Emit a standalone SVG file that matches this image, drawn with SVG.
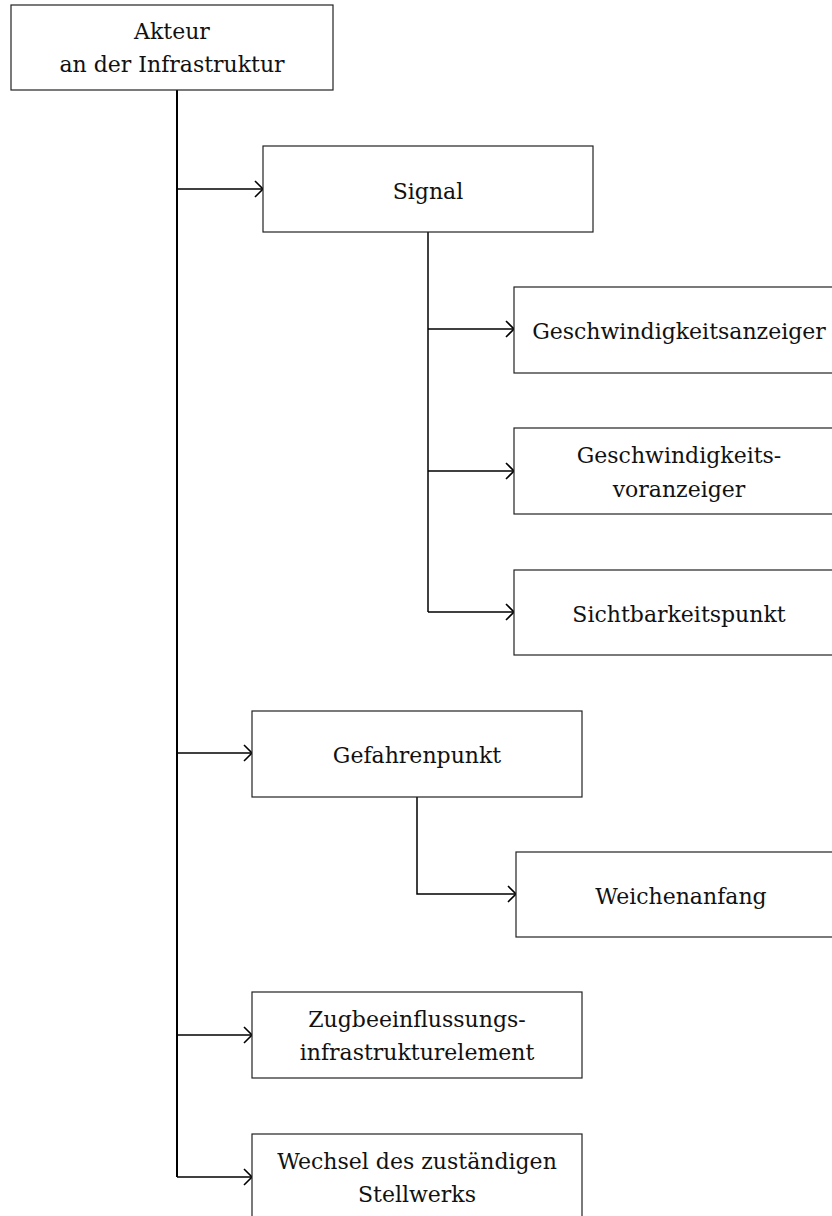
<svg xmlns="http://www.w3.org/2000/svg" width="832" height="1216" viewBox="0 0 832 1216">
<style>
.box{fill:#fff;stroke:#222;stroke-width:1.2}
.lbl{font-family:"DejaVu Serif","Liberation Serif",serif;font-size:22px;fill:#111;text-anchor:middle}
.trunk{fill:none;stroke:#000;stroke-width:2}
.con{fill:none;stroke:#000;stroke-width:1.5}
</style>
<defs>
<marker id="arr" markerUnits="userSpaceOnUse" markerWidth="12" markerHeight="20" viewBox="-10 -10 12 20" refX="0" refY="0" orient="auto">
<path d="M-8,-8 L0,0 L-8,8" fill="none" stroke="#000" stroke-width="1.6"/>
</marker>
</defs>
<rect width="832" height="1216" fill="#fff"/>
<g id="connectors">
<path class="trunk" d="M177,90 V1177"/>
<path class="con" d="M177,189 H263" marker-end="url(#arr)"/>
<path class="con" d="M177,753 H252" marker-end="url(#arr)"/>
<path class="con" d="M177,1035 H252" marker-end="url(#arr)"/>
<path class="con" d="M177,1177 H252" marker-end="url(#arr)"/>
<path class="con" d="M428,232 V612"/>
<path class="con" d="M428,329 H514" marker-end="url(#arr)"/>
<path class="con" d="M428,471 H514" marker-end="url(#arr)"/>
<path class="con" d="M428,612 H514" marker-end="url(#arr)"/>
<path class="con" d="M417,797 V894 H516" marker-end="url(#arr)"/>
</g>
<g id="node-akteur">
<rect class="box" x="11" y="5" width="322" height="85"/>
<text class="lbl" x="172" y="39">Akteur</text>
<text class="lbl" x="172" y="72">an der Infrastruktur</text>
</g>
<g id="node-signal">
<rect class="box" x="263" y="146" width="330" height="86"/>
<text class="lbl" x="428" y="199">Signal</text>
</g>
<g id="node-geschwindigkeitsanzeiger">
<rect class="box" x="514" y="287" width="330" height="86"/>
<text class="lbl" x="679" y="339">Geschwindigkeitsanzeiger</text>
</g>
<g id="node-geschwindigkeitsvoranzeiger">
<rect class="box" x="514" y="428" width="330" height="86"/>
<text class="lbl" x="679" y="463">Geschwindigkeits-</text>
<text class="lbl" x="679" y="497">voranzeiger</text>
</g>
<g id="node-sichtbarkeitspunkt">
<rect class="box" x="514" y="570" width="330" height="85"/>
<text class="lbl" x="679" y="622">Sichtbarkeitspunkt</text>
</g>
<g id="node-gefahrenpunkt">
<rect class="box" x="252" y="711" width="330" height="86"/>
<text class="lbl" x="417" y="763">Gefahrenpunkt</text>
</g>
<g id="node-weichenanfang">
<rect class="box" x="516" y="852" width="330" height="85"/>
<text class="lbl" x="681" y="904">Weichenanfang</text>
</g>
<g id="node-zugbeeinflussung">
<rect class="box" x="252" y="992" width="330" height="86"/>
<text class="lbl" x="417" y="1027">Zugbeeinflussungs-</text>
<text class="lbl" x="417" y="1060">infrastrukturelement</text>
</g>
<g id="node-wechsel">
<rect class="box" x="252" y="1134" width="330" height="86"/>
<text class="lbl" x="417" y="1169">Wechsel des zuständigen</text>
<text class="lbl" x="417" y="1202">Stellwerks</text>
</g>
</svg>
